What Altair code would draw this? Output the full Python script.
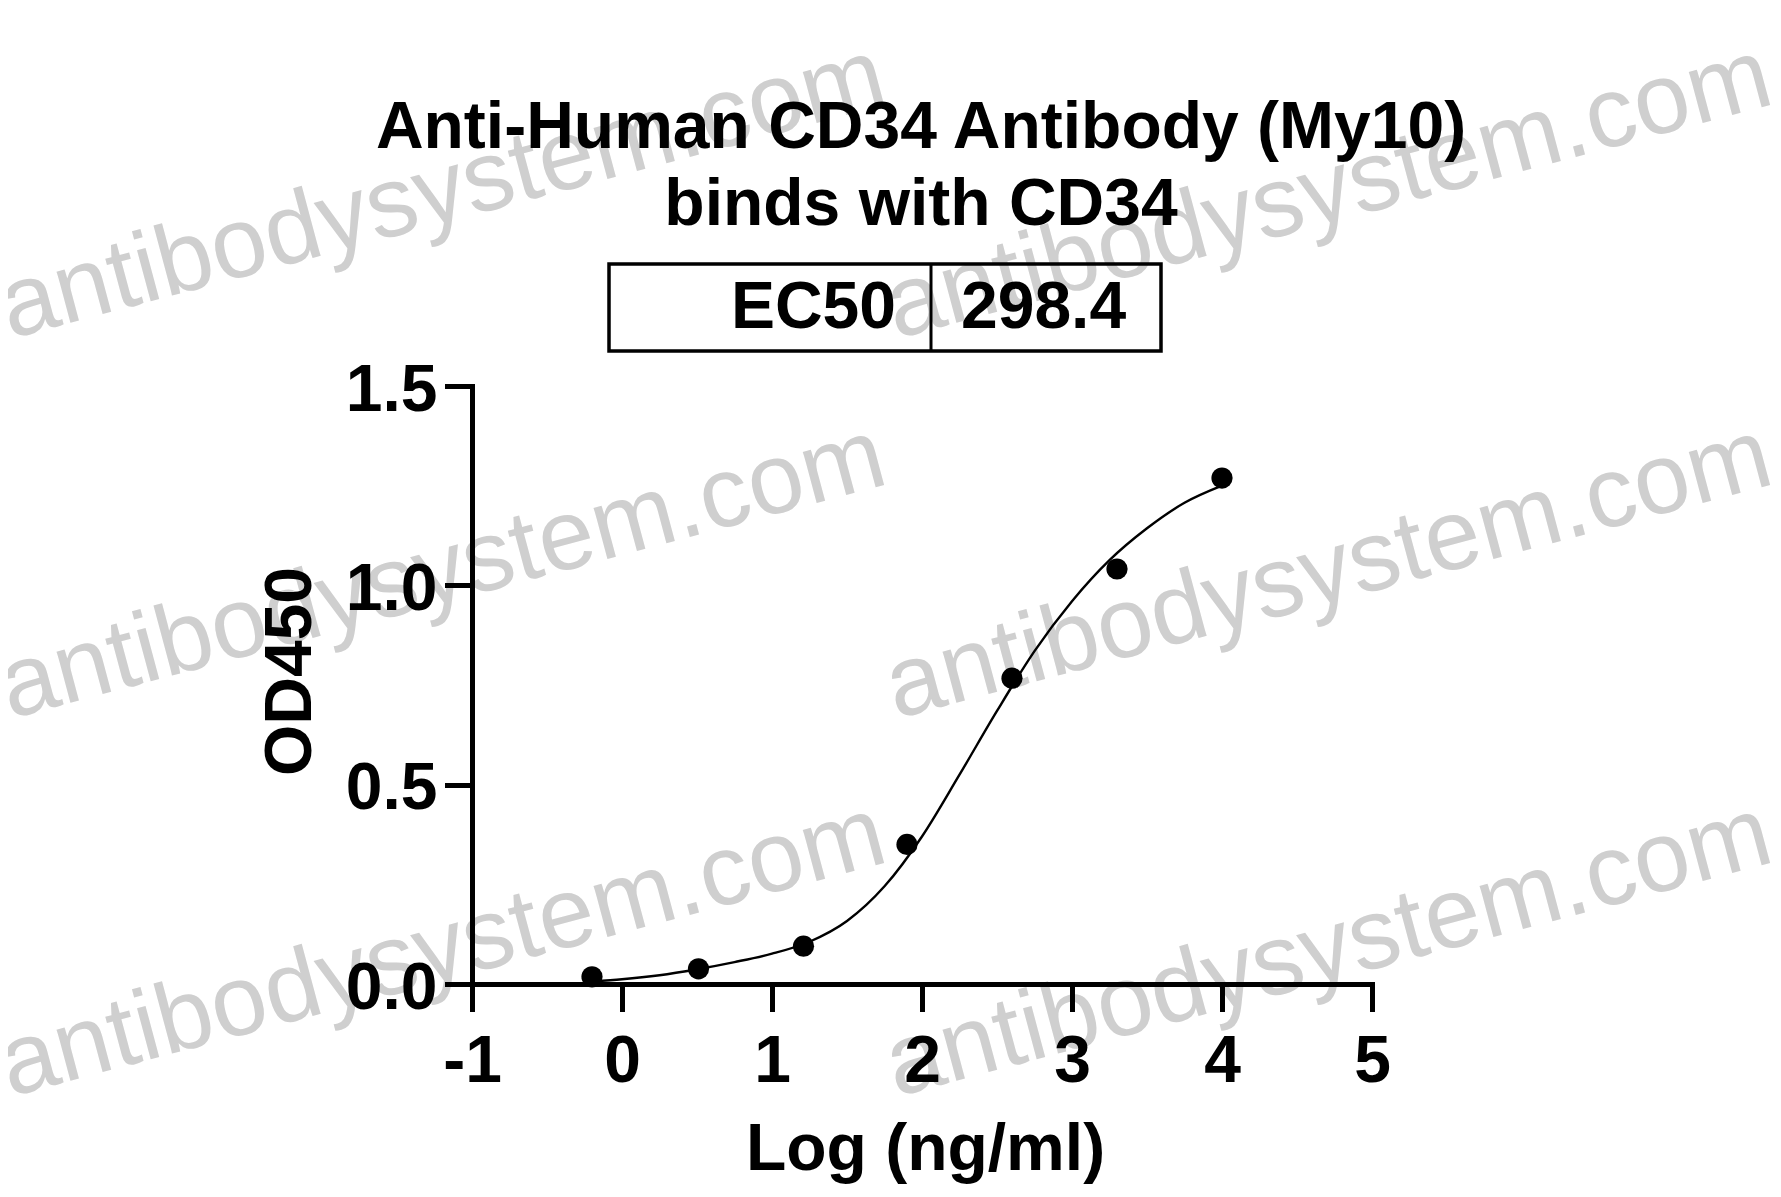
import altair as alt
import pandas as pd

# ---- data ----
log_conc = [-0.20, 0.51, 1.21, 1.90, 2.60, 3.30, 4.00]
od450 = [0.018, 0.038, 0.095, 0.350, 0.767, 1.041, 1.269]

fit_x = [-0.19, 0.0, 0.25, 0.5, 0.75, 1.0, 1.25, 1.5, 1.75, 2.0, 2.25, 2.5,
         2.75, 3.0, 3.25, 3.5, 3.75, 4.0]
fit_y = [0.007, 0.012, 0.022, 0.037, 0.055, 0.076, 0.106, 0.158, 0.245, 0.37,
         0.525, 0.685, 0.835, 0.96, 1.063, 1.143, 1.207, 1.25]

title_lines = ["Anti-Human CD34 Antibody (My10)", "binds with CD34"]
table_label = "EC50"
table_value = "298.4"
watermark = "antibodysystem.com"
x_ticks = [-1, 0, 1, 2, 3, 4, 5]
y_ticks = [0.0, 0.5, 1.0, 1.5]

FONT = "Liberation Sans"
W, H = 900, 598

pts = pd.DataFrame({"x": log_conc, "y": od450})
fit = pd.DataFrame({"x": fit_x, "y": fit_y})
one = pd.DataFrame({"k": [0]})

xs = alt.Scale(domain=[-1, 5], nice=False, zero=False)
ys = alt.Scale(domain=[0, 1.5], nice=False, zero=False)

x_axis = alt.Axis(values=x_ticks, labelExpr="'' + datum.value", title="Log (ng/ml)",
                  labelBaseline="alphabetic", labelPadding=72,
                  titleX=453, titleY=185, titleBaseline="alphabetic",
                  titleAlign="center", zindex=1)
y_axis = alt.Axis(values=y_ticks, format=".1f", title="OD450",
                  labelBaseline="middle", labelOffset=4, labelPadding=10,
                  titleX=-162, titleY=285, titleBaseline="alphabetic",
                  titleAlign="center", titleAngle=270, zindex=1)

layers = []

# watermarks (behind everything)
for wx, wy in [(-462, -47), (424, -47), (-462, 333), (424, 333), (-462, 711), (424, 711)]:
    layers.append(
        alt.Chart(one).mark_text(text=watermark, font=FONT, fontSize=100,
                                 color="#cfcfcf", align="left",
                                 baseline="alphabetic", angle=345)
        .encode(x=alt.value(wx), y=alt.value(wy))
    )

# fitted curve
curve = alt.Chart(fit).mark_line(color="black", strokeWidth=2.4,
                                 interpolate="monotone").encode(
    x=alt.X("x:Q", scale=xs, axis=x_axis),
    y=alt.Y("y:Q", scale=ys, axis=y_axis),
)
layers.append(curve)

# data points
points = alt.Chart(pts).mark_circle(color="black", opacity=1, size=450).encode(
    x=alt.X("x:Q", scale=xs),
    y=alt.Y("y:Q", scale=ys),
)
layers.append(points)

# title
layers.append(alt.Chart(one).mark_text(text=title_lines[0], font=FONT, fontSize=66,
                                       fontWeight="bold", color="black", align="center",
                                       baseline="alphabetic")
              .encode(x=alt.value(449), y=alt.value(-238)))
layers.append(alt.Chart(one).mark_text(text=title_lines[1], font=FONT, fontSize=66,
                                       fontWeight="bold", color="black", align="center",
                                       baseline="alphabetic")
              .encode(x=alt.value(449), y=alt.value(-161)))

# EC50 table
layers.append(alt.Chart(one).mark_rect(filled=False, stroke="black", strokeWidth=3.5)
              .encode(x=alt.value(137), x2=alt.value(689),
                      y=alt.value(-122), y2=alt.value(-35)))
layers.append(alt.Chart(one).mark_rule(color="black", strokeWidth=3)
              .encode(x=alt.value(459), y=alt.value(-122), y2=alt.value(-35)))
layers.append(alt.Chart(one).mark_text(text=table_label, font=FONT, fontSize=66,
                                       fontWeight="bold", color="black", align="right",
                                       baseline="alphabetic")
              .encode(x=alt.value(424), y=alt.value(-58)))
layers.append(alt.Chart(one).mark_text(text=table_value, font=FONT, fontSize=66,
                                       fontWeight="bold", color="black", align="left",
                                       baseline="alphabetic")
              .encode(x=alt.value(489), y=alt.value(-58)))

chart = alt.layer(*layers).properties(
    width=W, height=H,
    autosize=alt.AutoSizeParams(type="none"),
    padding={"left": 464, "top": 378, "right": 401, "bottom": 205},
    background="white",
).configure_view(stroke=None).configure_axis(
    grid=False,
    domainColor="black", domainWidth=5, domainCap="square",
    tickColor="black", tickWidth=5, tickSize=25, tickCap="square",
    labelFont=FONT, labelFontSize=66, labelFontWeight="bold", labelColor="black",
    labelFlush=False, labelOverlap=False, labelBound=False,
    titleFont=FONT, titleFontSize=66, titleFontWeight="bold", titleColor="black",
)

chart.save("out.html", embed_options={"renderer": "svg", "actions": False})
